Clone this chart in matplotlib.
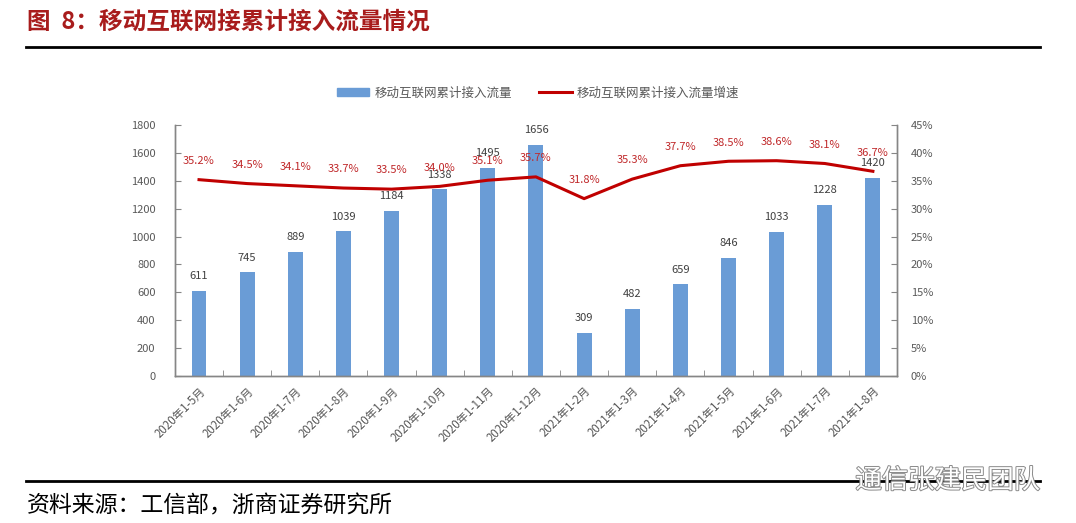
import matplotlib.pyplot as plt
import matplotlib.patheffects as pe
from matplotlib.lines import Line2D
from matplotlib.patches import Patch
import numpy as np

plt.rcParams['font.family'] = ['Noto Sans CJK SC', 'DejaVu Sans']

# data
months = ['2020年1-5月', '2020年1-6月', '2020年1-7月', '2020年1-8月', '2020年1-9月',
          '2020年1-10月', '2020年1-11月', '2020年1-12月', '2021年1-2月', '2021年1-3月',
          '2021年1-4月', '2021年1-5月', '2021年1-6月', '2021年1-7月', '2021年1-8月']
traffic = [611, 745, 889, 1039, 1184, 1338, 1495, 1656, 309, 482, 659, 846, 1033, 1228, 1420]
growth = [35.2, 34.5, 34.1, 33.7, 33.5, 34.0, 35.1, 35.7, 31.8, 35.3, 37.7, 38.5, 38.6, 38.1, 36.7]

bar_color = '#6A9CD6'
line_color = '#C00000'
axis_gray = '#868686'
text_gray = '#595959'

fig = plt.figure(figsize=(10.76, 5.23), dpi=100)
ax = fig.add_axes([0.1626, 0.281, 0.671, 0.48])
ax2 = ax.twinx()

x = np.arange(len(months))
ax.bar(x, traffic, width=0.31, color=bar_color, zorder=2)
for xi, v in zip(x, traffic):
    ax.annotate(str(v), (xi, v), xytext=(0, 10.5), textcoords='offset points',
                ha='center', va='center', fontsize=8, color='#404040')

ax2.plot(x, growth, color=line_color, lw=2.2, zorder=3)
for xi, g in zip(x, growth):
    ax2.annotate(f'{g:.1f}%', (xi, g), xytext=(0, 13.5), textcoords='offset points',
                 ha='center', va='center', fontsize=8, color='#C0282A')

ax.set_xlim(-0.5, len(months) - 0.5)
ax.set_ylim(0, 1800)
ax.set_yticks(range(0, 1801, 200))
ax2.set_ylim(0, 45)
ax2.set_yticks(range(0, 46, 5))
ax2.set_yticklabels([f'{t}%' for t in range(0, 46, 5)])

ax.set_xticks(x)
ax.set_xticklabels(months, rotation=45, ha='right', rotation_mode='anchor', fontsize=8.3, color=text_gray)
ax.set_xticks(np.arange(-0.5, len(months), 1), minor=True)
ax.tick_params(axis='x', which='major', length=0, pad=6)
ax.tick_params(axis='x', which='minor', direction='in', length=4, color=axis_gray)
ax.tick_params(axis='y', direction='in', length=4, color=axis_gray, labelsize=8, labelcolor=text_gray, pad=14)
ax2.tick_params(axis='y', direction='in', length=4, color=axis_gray, labelsize=8, labelcolor=text_gray, pad=10)

for a in (ax, ax2):
    a.spines['top'].set_visible(False)
    for s in ('left', 'right', 'bottom'):
        a.spines[s].set_color(axis_gray)
        a.spines[s].set_linewidth(1)

handles = [Patch(color=bar_color), Line2D([0], [0], color=line_color, lw=2.2)]
fig.legend(handles, ['移动互联网累计接入流量', '移动互联网累计接入流量增速'],
           loc='center', bbox_to_anchor=(0.5, 0.822), ncol=2, frameon=False,
           fontsize=9, labelcolor=text_gray, handlelength=2.6, handleheight=0.6,
           columnspacing=2.2, handletextpad=0.4)

fig.text(0.025, 0.958, '图  8：移动互联网接累计接入流量情况', fontsize=17, fontweight='bold',
         color='#A81C1C', va='center')
fig.add_artist(Line2D([0.024, 0.967], [0.910, 0.910], color='black', lw=2))
fig.add_artist(Line2D([0.024, 0.967], [0.080, 0.080], color='black', lw=2))
fig.text(0.025, 0.033, '资料来源：工信部，浙商证券研究所', fontsize=16.5, color='black', va='center')

wm = fig.text(0.795, 0.081, '通信张建民团队', fontsize=19, color='white', va='center')
wm.set_path_effects([pe.withStroke(linewidth=1.4, foreground='#8a8a8a')])

fig.savefig('out.png', dpi=100)
